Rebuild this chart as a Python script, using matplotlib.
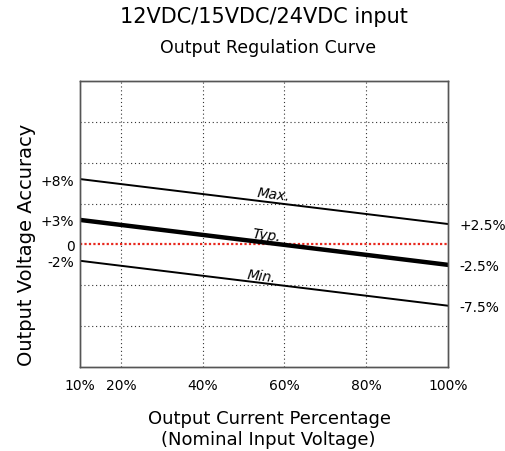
import numpy as np
import matplotlib
matplotlib.use("Agg")
import matplotlib.pyplot as plt

# data
load_pct = [10, 100]
max_curve = [8, 2.5]
typ_curve = [3, -2.5]
min_curve = [-2, -7.5]

x_ticks = [10, 20, 40, 60, 80, 100]
x_tick_labels = ["10%", "20%", "40%", "60%", "80%", "100%"]
left_ticks = [8, 3, 0, -2]
left_labels = ["+8%", "+3%", "0", "-2%"]
right_ticks = [2.5, -2.5, -7.5]
right_labels = ["+2.5%", "-2.5%", "-7.5%"]
v_grid = [20, 40, 60, 80]
h_grid = [-10, -5, 5, 10, 15]

plt.rcParams['font.family'] = ['DejaVu Sans']

fig = plt.figure(figsize=(5.06, 4.52), dpi=100)
ax = fig.add_axes([80/506, 1-368/452, 368/506, 286/452])
ax.set_xlim(10, 100)
ax.set_ylim(-15, 20)

for gx in v_grid:
    ax.axvline(gx, color="#333333", ls=(0, (1, 2.5)), lw=0.8)
for gy in h_grid:
    ax.axhline(gy, color="#333333", ls=(0, (1, 2.5)), lw=0.8)
ax.axhline(0, color="#e8281e", ls=(0, (1, 1)), lw=1.6)

ax.plot(load_pct, max_curve, color="black", lw=1.4)
ax.plot(load_pct, typ_curve, color="black", lw=3.2)
ax.plot(load_pct, min_curve, color="black", lw=1.4)

ax.text(57.4, 6.2, "Max.", rotation=-7, ha="center", va="center", fontsize=10, style="italic")
ax.text(55.7, 1.2, "Typ.", rotation=-7, ha="center", va="center", fontsize=10, style="italic")
ax.text(54.3, -3.8, "Min.", rotation=-7, ha="center", va="center", fontsize=10, style="italic")

ax.set_xticks(x_ticks)
ax.set_xticklabels(x_tick_labels, fontsize=10)
ax.set_yticks(left_ticks)
ax.set_yticklabels(left_labels, fontsize=10)
ax.tick_params(length=0, pad=4)
ax.tick_params(axis="x", pad=8)

ax2 = ax.twinx()
ax2.set_ylim(-15, 20)
ax2.set_yticks(right_ticks)
ax2.set_yticklabels(right_labels, fontsize=10)
ax2.tick_params(length=0, pad=8)

for a in (ax, ax2):
    for s in a.spines.values():
        s.set_color("#555555")
        s.set_linewidth(1.0)

fig.text(269/506, 1-419/452, "Output Current Percentage", ha="center", va="center", fontsize=13)
fig.text(268/506, 1-440/452, "(Nominal Input Voltage)", ha="center", va="center", fontsize=13)
fig.text(27/506, 1-245/452, "Output Voltage Accuracy", ha="center", va="center", fontsize=14, rotation=90)

fig.text(264/506, 1-17/452, "12VDC/15VDC/24VDC input", ha="center", va="center", fontsize=15)
fig.text(268/506, 1-48/452, "Output Regulation Curve", ha="center", va="center", fontsize=12.5)

fig.savefig("out.png", dpi=100, facecolor="white")
